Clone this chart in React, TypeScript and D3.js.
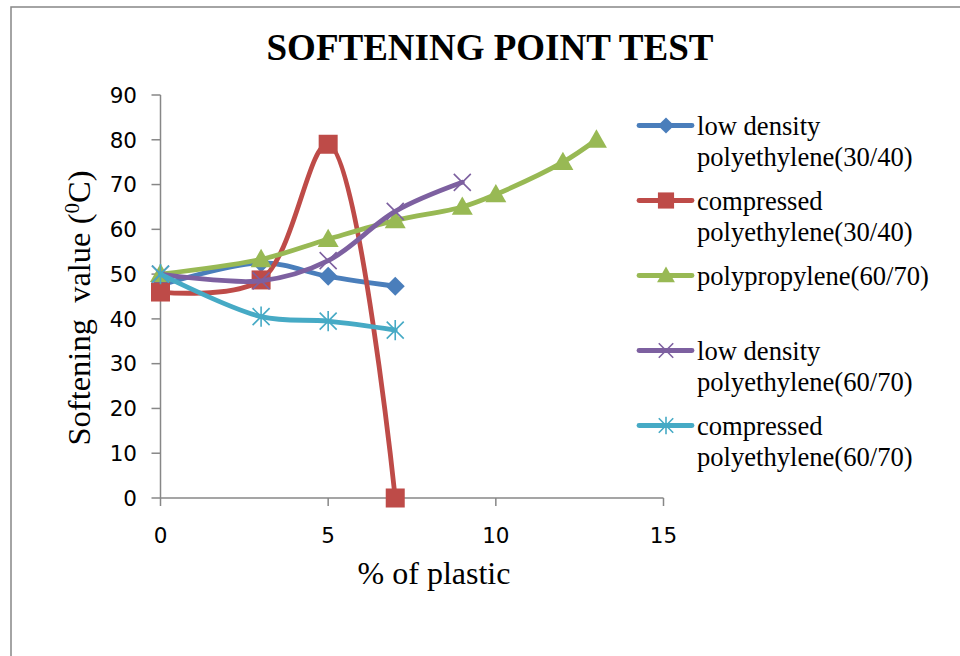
import React from "react";
import * as d3 from "d3";

const seriesNames = [
  ["low density", "polyethylene(30/40)"],
  ["compressed", "polyethylene(30/40)"],
  ["polypropylene(60/70)"],
  ["low density", "polyethylene(60/70)"],
  ["compressed", "polyethylene(60/70)"],
];
const xLdpe3040 = [0, 3, 5, 7];
const yLdpe3040 = [47.5, 52.5, 49.5, 47.3];
const xCpe3040 = [0, 3, 5, 7];
const yCpe3040 = [46, 48.7, 79, 0];
const xPp6070 = [0, 3, 5, 7, 9, 10, 12, 13];
const yPp6070 = [50, 53.3, 57.8, 62, 65, 67.8, 75, 80];
const xLdpe6070 = [0, 3, 5, 7, 9];
const yLdpe6070 = [50, 48.5, 53, 64, 70.5];
const xCpe6070 = [0, 3, 5, 7];
const yCpe6070 = [50, 40.5, 39.5, 37.5];

const xTicks = [0, 5, 10, 15];
const yTicks = [0, 10, 20, 30, 40, 50, 60, 70, 80, 90];

const colors = ["#4a7ebb", "#be4b48", "#98b954", "#7d60a0", "#46aac5"];
const markers = ["diamond", "square", "triangle", "x", "star"];

const seriesX = [xLdpe3040, xCpe3040, xPp6070, xLdpe6070, xCpe6070];
const seriesY = [yLdpe3040, yCpe3040, yPp6070, yLdpe6070, yCpe6070];

function Marker({ type, cx, cy, color, s = 1 }: any) {
  if (type === "diamond") {
    const r = 9.5 * s;
    return <path d={`M${cx},${cy - r}L${cx + r},${cy}L${cx},${cy + r}L${cx - r},${cy}Z`} fill={color} />;
  }
  if (type === "square") {
    const r = 9.5 * s;
    return <rect x={cx - r} y={cy - r} width={2 * r} height={2 * r} fill={color} />;
  }
  if (type === "triangle") {
    const r = 10.5 * s;
    return <path d={`M${cx},${cy - r}L${cx + r},${cy + r * 0.75}L${cx - r},${cy + r * 0.75}Z`} fill={color} />;
  }
  if (type === "x") {
    const r = 8.5 * s;
    return (
      <path d={`M${cx - r},${cy - r}L${cx + r},${cy + r}M${cx - r},${cy + r}L${cx + r},${cy - r}`} stroke={color} strokeWidth={1.6} fill="none" />
    );
  }
  const r = 8.5 * s;
  return (
    <path
      d={`M${cx - r},${cy - r}L${cx + r},${cy + r}M${cx - r},${cy + r}L${cx + r},${cy - r}M${cx},${cy - r * 1.2}L${cx},${cy + r * 1.2}`}
      stroke={color}
      strokeWidth={1.6}
      fill="none"
    />
  );
}

export default function App() {
  const x = d3.scaleLinear().domain([0, 15]).range([160.5, 663.5]);
  const y = d3.scaleLinear().domain([0, 90]).range([498, 95]);
  const line = d3
    .line<[number, number]>()
    .x((d) => x(d[0]))
    .y((d) => y(d[1]))
    .curve(d3.curveCatmullRom.alpha(0.5));

  const serif = "'Liberation Serif', 'Times New Roman', serif";
  const sans = "'DejaVu Sans', sans-serif";
  const legendY = [125.5, 200.5, 275.5, 350.5, 425.5];

  return (
    <svg width={960} height={656} style={{ position: "absolute", left: 0, top: 0, background: "#fff" }}>
      <rect x={11} y={7} width={1000} height={700} fill="#fff" stroke="#878787" strokeWidth={1.5} />
      <text x={490} y={60} textAnchor="middle" fontFamily={serif} fontWeight="bold" fontSize={37} fill="#000">
        SOFTENING POINT TEST
      </text>
      {/* axes */}
      <line x1={x(0)} x2={x(0)} y1={y(90)} y2={y(0)} stroke="#878787" strokeWidth={1.5} />
      <line x1={x(0)} x2={x(15)} y1={y(0)} y2={y(0)} stroke="#878787" strokeWidth={1.5} />
      {yTicks.map((t) => (
        <g key={"y" + t}>
          <line x1={x(0) - 9} x2={x(0)} y1={y(t)} y2={y(t)} stroke="#878787" strokeWidth={1.5} />
          <text x={137} y={y(t)} dy="0.36em" textAnchor="end" fontFamily={sans} fontSize={21.5} fill="#000">
            {t}
          </text>
        </g>
      ))}
      {xTicks.map((t) => (
        <g key={"x" + t}>
          <line x1={x(t)} x2={x(t)} y1={y(0)} y2={y(0) + 8} stroke="#878787" strokeWidth={1.5} />
          <text x={x(t)} y={542.5} textAnchor="middle" fontFamily={sans} fontSize={21.5} fill="#000">
            {t}
          </text>
        </g>
      ))}
      <text x={434} y={584} textAnchor="middle" fontFamily={serif} fontSize={32} fill="#000">
        % of plastic
      </text>
      <text
        transform="translate(90,308) rotate(-90)"
        textAnchor="middle"
        fontFamily={serif}
        fontSize={32.5}
        fill="#000"
        style={{ whiteSpace: "pre" }}
      >
        {"Softening  value ("}
        <tspan dy={-11} fontSize={21}>0</tspan>
        <tspan dy={11}>C)</tspan>
      </text>
      {/* series */}
      {seriesX.map((xs, i) => {
        const pts: [number, number][] = xs.map((v, j) => [v, seriesY[i][j]]);
        return (
          <g key={"s" + i}>
            <path d={line(pts) || ""} fill="none" stroke={colors[i]} strokeWidth={4.8} strokeLinejoin="round" strokeLinecap="round" />
            {pts.map((p, j) => (
              <Marker key={j} type={markers[i]} cx={x(p[0])} cy={y(p[1])} color={colors[i]} />
            ))}
          </g>
        );
      })}
      {/* legend */}
      {seriesNames.map((names, i) => (
        <g key={"l" + i}>
          <line x1={639} x2={692} y1={legendY[i]} y2={legendY[i]} stroke={colors[i]} strokeWidth={4.8} strokeLinecap="round" />
          <Marker type={markers[i]} cx={666} cy={legendY[i]} color={colors[i]} s={0.85} />
          {names.map((n, k) => (
            <text key={k} x={697} y={legendY[i] + 9 + k * 31.5} fontFamily={serif} fontSize={26.6} fill="#000">
              {n}
            </text>
          ))}
        </g>
      ))}
    </svg>
  );
}
